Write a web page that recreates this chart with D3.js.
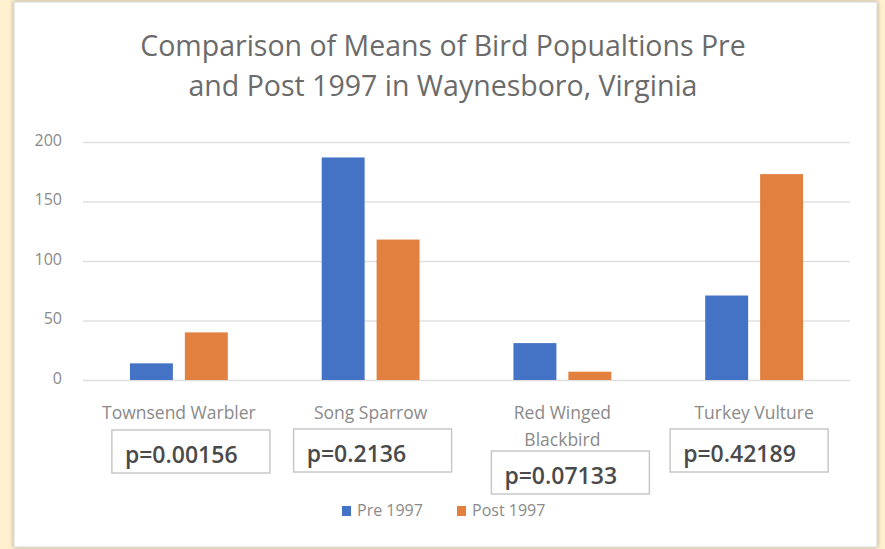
<!DOCTYPE html>
<html>
<head>
<meta charset="utf-8">
<script src="https://cdn.jsdelivr.net/npm/d3@7"></script>
<style>
  html, body { margin: 0; padding: 0; background: #fff1cf; }
  svg { display: block; }
  text { font-family: "Open Sans", "Noto Sans", sans-serif; }
</style>
</head>
<body>
<div id="chartWrap"></div>
<script>
// chart values
const birds = ["Townsend Warbler", "Song Sparrow", "Red Winged Blackbird", "Turkey Vulture"];
const birdLabels = [["Townsend Warbler"], ["Song Sparrow"], ["Red Winged", "Blackbird"], ["Turkey Vulture"]];
const seriesNames = ["Pre 1997", "Post 1997"];
const pre1997 = [14, 187, 31, 71];
const post1997 = [40, 118, 7, 173];
const pValues = ["p=0.00156", "p=0.2136", "p=0.07133", "p=0.42189"];
const yTicks = [0, 50, 100, 150, 200];
const titleLines = ["Comparison of Means of Bird Popualtions Pre", "and Post 1997 in Waynesboro, Virginia"];

const W = 885, H = 549;
const colors = ["#4472c4", "#e2803f"];
const margin = {left: 83, right: 35, top: 142, bottom: 169};
const labelGray = '#8a8a8a';

// the p-value text boxes were placed by hand in the original, offset from each category
const boxNudge = [{dx: 12, dy: 0}, {dx: 2, dy: -1}, {dx: 8, dy: 21}, {dx: -5, dy: -1}];

const svg = d3.select('#chartWrap').append('svg')
  .attr('width', W).attr('height', H);

const defs = svg.append('defs');
const shadow = defs.append('filter').attr('id', 'soft')
  .attr('x', '-5%').attr('y', '-5%').attr('width', '110%').attr('height', '110%');
shadow.append('feGaussianBlur').attr('in', 'SourceAlpha').attr('stdDeviation', 2);
shadow.append('feComponentTransfer').append('feFuncA').attr('type', 'linear').attr('slope', 0.35);
const merge = shadow.append('feMerge');
merge.append('feMergeNode');
merge.append('feMergeNode').attr('in', 'SourceGraphic');

// white chart panel
svg.append('rect')
  .attr('x', 14).attr('y', 2).attr('width', 863).attr('height', 545)
  .attr('fill', '#ffffff').attr('stroke', '#d6d6d6').attr('stroke-width', 1)
  .attr('filter', 'url(#soft)');

// title
svg.append('g').selectAll('text')
  .data(titleLines)
  .enter().append('text')
  .attr('x', 443)
  .attr('y', (d, i) => 56 + i * 40)
  .attr('text-anchor', 'middle')
  .attr('font-size', 28.5)
  .attr('fill', '#6b6b6b')
  .text(d => d);

const x = d3.scaleBand()
  .domain(birds)
  .range([margin.left, W - margin.right]);

const xSub = d3.scaleBand()
  .domain(seriesNames)
  .range([0, x.bandwidth()])
  .paddingInner(0.218)
  .paddingOuter(0.855);

const y = d3.scaleLinear()
  .domain([0, 200])
  .range([H - margin.bottom, margin.top]);

// gridlines
const grid = svg.append('g')
  .attr('transform', `translate(${margin.left},0)`)
  .call(d3.axisLeft(y).tickValues(yTicks).tickSize(-(W - margin.left - margin.right)).tickFormat(''));
grid.select('.domain').remove();
grid.selectAll('line').attr('stroke', '#e0e0e0').attr('stroke-width', 1.5);

// y tick labels
const yAxis = svg.append('g')
  .attr('transform', `translate(62,0)`)
  .call(d3.axisLeft(y).tickValues(yTicks).tickSize(0).tickPadding(0));
yAxis.select('.domain').remove();
yAxis.selectAll('text')
  .attr('font-family', '"Open Sans", sans-serif')
  .attr('font-size', 16)
  .attr('dy', '0.2em')
  .attr('fill', labelGray);

// bars
const rows = birds.map((b, i) => ({bird: b, values: [pre1997[i], post1997[i]]}));
const groups = svg.append('g').selectAll('g')
  .data(rows)
  .enter().append('g')
  .attr('transform', d => `translate(${x(d.bird)},0)`);

groups.selectAll('rect')
  .data(d => d.values.map((v, j) => ({series: seriesNames[j], value: v, j})))
  .enter().append('rect')
  .attr('x', d => xSub(d.series))
  .attr('width', xSub.bandwidth())
  .attr('y', d => y(d.value))
  .attr('height', d => y(0) - y(d.value))
  .attr('fill', d => colors[d.j]);

// category labels
const catG = svg.append('g');
birds.forEach((b, i) => {
  const cx = x(b) + x.bandwidth() / 2;
  catG.append('text')
    .attr('x', cx)
    .attr('y', 419)
    .attr('text-anchor', 'middle')
    .attr('font-size', 17.5)
    .attr('fill', labelGray)
    .selectAll('tspan')
    .data(birdLabels[i])
    .enter().append('tspan')
    .attr('x', cx)
    .attr('dy', (d, k) => k === 0 ? 0 : 27)
    .text(d => d);
});

// p-value boxes
const boxW = 158, boxH = 43;
const pG = svg.append('g').selectAll('g')
  .data(pValues)
  .enter().append('g')
  .attr('transform', (d, i) => {
    const cx = x(birds[i]) + x.bandwidth() / 2 + boxNudge[i].dx;
    return `translate(${cx - boxW / 2},${430 + boxNudge[i].dy})`;
  });
pG.append('rect')
  .attr('width', boxW).attr('height', boxH)
  .attr('fill', '#ffffff').attr('stroke', '#c8c8c8').attr('stroke-width', 1.5);
pG.append('text')
  .attr('x', 13).attr('y', 33)
  .attr('font-size', 23)
  .attr('font-weight', 600)
  .attr('fill', '#4a4a4a')
  .text(d => d);

// legend
const legend = svg.append('g').attr('transform', 'translate(342,506)');
const lItems = legend.selectAll('g')
  .data(seriesNames)
  .enter().append('g')
  .attr('transform', (d, i) => `translate(${i * 115},0)`);
lItems.append('rect')
  .attr('width', 9).attr('height', 10)
  .attr('fill', (d, i) => colors[i]);
lItems.append('text')
  .attr('x', 15).attr('y', 10)
  .attr('font-size', 16)
  .attr('fill', labelGray)
  .text(d => d);
</script>
</body>
</html>
